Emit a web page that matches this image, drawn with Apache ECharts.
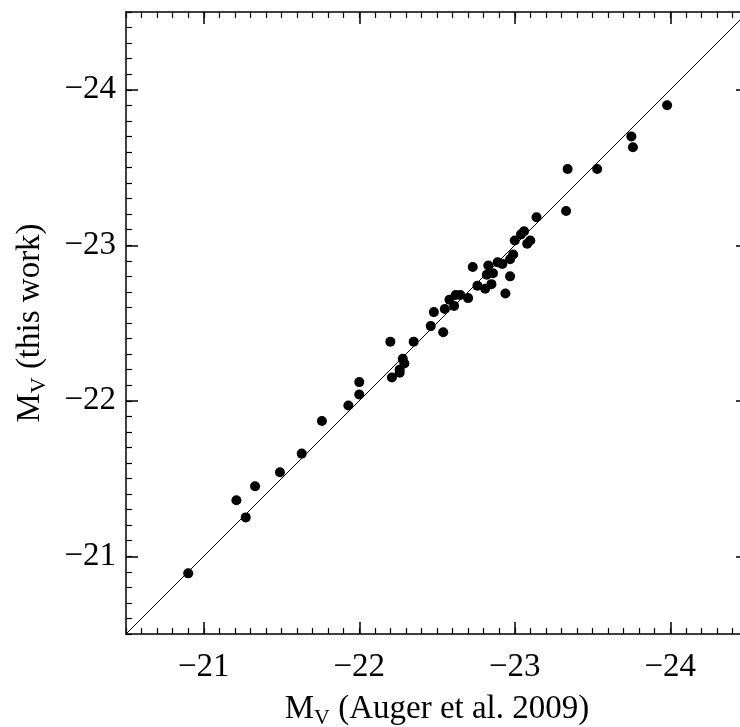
<!DOCTYPE html>
<html><head><meta charset="utf-8">
<script src="https://cdn.jsdelivr.net/npm/echarts@6/dist/echarts.min.js"></script>
<style>html,body{margin:0;padding:0;background:#fff}#c{width:740px;height:727px}</style>
</head><body><div id="c"></div>
<script>
// ---- data ----
const axisMin = -24.5;
const axisMax = -20.5;
const majorTicks = [-24, -23, -22, -21];
const minorStep = 0.1;
const xTitle = 'M{sub|V} (Auger et al. 2009)';
const yTitle = 'M{sub|V} (this work)';
const augerMV = [
  -20.90, -21.21, -21.27, -21.33, -21.49, -21.63, -21.76, -21.93, -22.00, -22.00,
  -22.20, -22.21, -22.26, -22.26, -22.29, -22.28, -22.35, -22.46, -22.48, -22.54,
  -22.55, -22.58, -22.61, -22.62, -22.65, -22.70, -22.76, -22.81, -22.85, -22.94,
  -22.73, -22.82, -22.83, -22.86, -22.89, -22.92, -22.97, -22.97, -22.99, -23.00,
  -23.04, -23.06, -23.10, -23.08, -23.14, -23.33, -23.34, -23.53, -23.75, -23.76,
  -23.98
];
const thisWorkMV = [
  -20.89, -21.36, -21.25, -21.45, -21.54, -21.66, -21.87, -21.97, -22.04, -22.12,
  -22.38, -22.15, -22.18, -22.20, -22.24, -22.27, -22.38, -22.48, -22.57, -22.44,
  -22.59, -22.65, -22.61, -22.68, -22.68, -22.66, -22.74, -22.72, -22.75, -22.69,
  -22.86, -22.81, -22.87, -22.82, -22.89, -22.88, -22.80, -22.91, -22.94, -23.03,
  -23.07, -23.09, -23.03, -23.01, -23.18, -23.22, -23.49, -23.49, -23.70, -23.63,
  -23.90
];
const oneToOne = [-20.5, -24.5];

// ---- chart ----
const FONT = 'Liberation Serif';
const points = augerMV.map((x, i) => [x, thisWorkMV[i]]);
const linePts = oneToOne.map(v => [v, v]);
const fmt = v => '\u2212' + Math.abs(v);
const richSub = { sub: { fontSize: 22, fontFamily: FONT, color: '#000', verticalAlign: 'bottom', lineHeight: 22 } };

function axisSet(dim, mainPos, otherPos) {
  const base = { type: 'value', min: axisMin, max: axisMax, inverse: true, gridIndex: 0, splitLine: { show: false } };
  const main = Object.assign({}, base, {
    position: mainPos,
    axisLine: { show: true, onZero: false, lineStyle: { color: '#000', width: 1.5 } },
    axisTick: { show: true, inside: true, length: 12, customValues: majorTicks, lineStyle: { color: '#000', width: 1.5 } },
    axisLabel: { show: true, customValues: majorTicks, formatter: fmt, fontFamily: FONT, fontSize: 33, color: '#000', margin: dim === 'x' ? 17 : 10 },
    name: dim === 'x' ? xTitle : yTitle,
    nameLocation: 'middle',
    nameGap: dim === 'x' ? 51 : 76,
    nameTextStyle: { fontFamily: FONT, fontSize: 33, color: '#000', lineHeight: 40, rich: richSub }
  });
  const minor = (pos) => Object.assign({}, base, {
    position: pos, interval: minorStep,
    axisLine: { show: false },
    axisTick: { show: true, inside: true, length: 6, lineStyle: { color: '#000', width: 1.2 } },
    axisLabel: { show: false }
  });
  const other = Object.assign({}, base, {
    position: otherPos,
    axisLine: { show: true, onZero: false, lineStyle: { color: '#000', width: 1.5 } },
    axisTick: { show: true, inside: true, length: 12, customValues: majorTicks, lineStyle: { color: '#000', width: 1.5 } },
    axisLabel: { show: false }
  });
  return [main, minor(mainPos), other, minor(otherPos)];
}

const chart = echarts.init(document.getElementById('c'), null, { renderer: 'canvas' });
chart.setOption({
  animation: false,
  backgroundColor: '#fff',
  grid: { left: 126, top: 12, width: 622, height: 622, containLabel: false, outerBoundsMode: 'none' },
  xAxis: axisSet('x', 'bottom', 'top'),
  yAxis: axisSet('y', 'left', 'right'),
  series: [
    { type: 'line', data: linePts, xAxisIndex: 0, yAxisIndex: 0, symbol: 'none', lineStyle: { color: '#000', width: 1 }, silent: true },
    { type: 'scatter', data: points, xAxisIndex: 0, yAxisIndex: 0, symbol: 'circle', symbolSize: 10, itemStyle: { color: '#000', opacity: 1 } }
  ]
});
</script>
</body></html>
